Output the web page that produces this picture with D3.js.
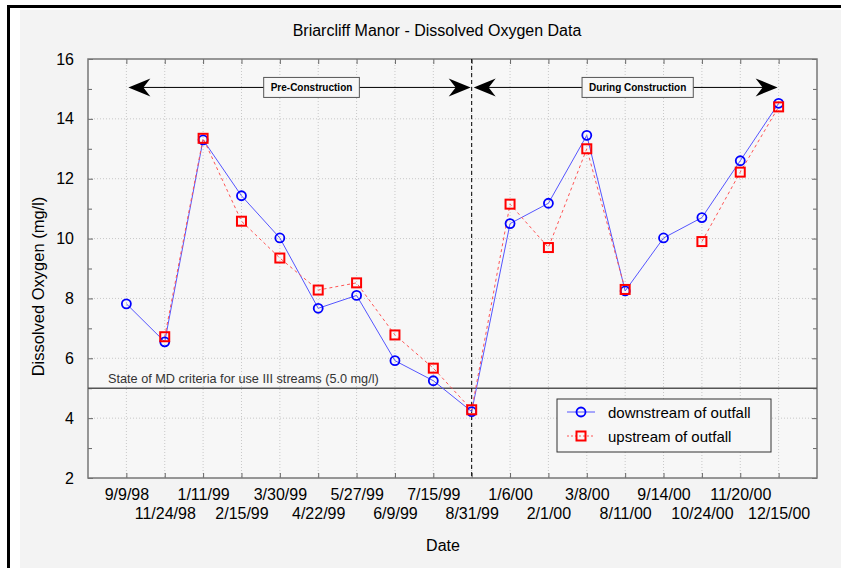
<!DOCTYPE html>
<html>
<head>
<meta charset="utf-8">
<script src="https://cdn.jsdelivr.net/npm/d3@7"></script>
<style>
  body { margin: 0; background: #fff; }
  svg { display: block; font-family: "Liberation Sans", Arial, sans-serif; }
</style>
</head>
<body>
<svg width="841" height="568"></svg>
<script>
// fechas de muestreo
var dates = ["9/9/98", "11/24/98", "1/11/99", "2/15/99", "3/30/99", "4/22/99", "5/27/99",
  "6/9/99", "7/15/99", "8/31/99", "1/6/00", "2/1/00", "3/8/00", "8/11/00", "9/14/00",
  "10/24/00", "11/20/00", "12/15/00"];
var downstream = [7.82, 6.55, 13.3, 11.43, 10.02, 7.67, 8.1, 5.92, 5.25, 4.22, 10.5, 11.18,
  13.45, 8.25, 10.02, 10.7, 12.6, 14.52];
var upstream = [null, 6.72, 13.35, 10.58, 9.35, 8.28, 8.52, 6.78, 5.67, 4.28, 11.15, 9.7,
  13.0, 8.3, null, 9.9, 12.22, 14.4];
var yTicks = [2, 4, 6, 8, 10, 12, 14, 16];
var criteria = 5;
var phases = [
  { label: "Pre-Construction", from: "9/9/98", to: "8/31/99" },
  { label: "During Construction", from: "8/31/99", to: "12/15/00" }
];

var svg = d3.select("svg");
var pL = 88, pR = 817, pT = 59, pB = 478;

var x = d3.scalePoint().domain(dates).range([pL, pR]).padding(1);
var y = d3.scaleLinear().domain([2, 16]).range([pB, pT]);

// marco y fondo
svg.append("rect").attr("x", 20).attr("y", 10).attr("width", 821).attr("height", 558).attr("fill", "#f3f3f3");
svg.append("path").attr("d", "M8.5,568V6.5H841").attr("fill", "none").attr("stroke", "#000").attr("stroke-width", 3);
svg.append("rect").attr("x", pL).attr("y", pT).attr("width", pR - pL).attr("height", pB - pT)
  .attr("fill", "#f7f7f7");

// rejilla
svg.append("g").selectAll("line").data(dates).join("line")
  .attr("x1", d => x(d)).attr("x2", d => x(d)).attr("y1", pT).attr("y2", pB)
  .attr("stroke", "#c8c8c8").attr("stroke-dasharray", "1,2");
svg.append("g").selectAll("line").data(yTicks.slice(1, -1)).join("line")
  .attr("x1", pL).attr("x2", pR).attr("y1", d => y(d)).attr("y2", d => y(d))
  .attr("stroke", "#c8c8c8").attr("stroke-dasharray", "1,2");

// ejes con ticks hacia dentro
var minor = d3.range(3, 16, 2);
svg.append("g").attr("transform", "translate(" + pL + ",0)")
  .call(d3.axisLeft(y).tickValues(yTicks).tickSize(-5).tickPadding(14).tickFormat(d3.format("d")))
  .call(g => g.select(".domain").remove())
  .call(g => g.selectAll("text").attr("font-size", 16).attr("fill", "#000").attr("font-family", "Liberation Sans, Arial"));
svg.append("g").attr("transform", "translate(" + pL + ",0)")
  .call(d3.axisLeft(y).tickValues(minor).tickSize(-4).tickFormat(""))
  .call(g => g.select(".domain").remove());
svg.append("g").attr("transform", "translate(" + pR + ",0)")
  .call(d3.axisRight(y).tickValues(yTicks).tickSize(-5).tickFormat(""))
  .call(g => g.select(".domain").remove());
svg.append("g").attr("transform", "translate(" + pR + ",0)")
  .call(d3.axisRight(y).tickValues(minor).tickSize(-4).tickFormat(""))
  .call(g => g.select(".domain").remove());
svg.append("g").attr("transform", "translate(0," + pT + ")")
  .call(d3.axisTop(x).tickSize(-5).tickFormat(""))
  .call(g => g.select(".domain").remove());
var xa = svg.append("g").attr("transform", "translate(0," + pB + ")")
  .call(d3.axisBottom(x).tickSize(-5).tickPadding(0))
  .call(g => g.select(".domain").remove());
xa.selectAll("text").attr("font-size", 16).attr("fill", "#000").attr("font-family", "Liberation Sans, Arial")
  .attr("dy", (d, i) => i % 2 ? "1.55em" : "0.35em").attr("y", 16);
svg.selectAll(".tick line").attr("stroke", "#666");

svg.append("rect").attr("x", pL).attr("y", pT).attr("width", pR - pL).attr("height", pB - pT)
  .attr("fill", "none").attr("stroke", "#777").attr("stroke-width", 1.5);

// linea de criterio
svg.append("line").attr("x1", pL).attr("x2", pR).attr("y1", y(criteria)).attr("y2", y(criteria))
  .attr("stroke", "#555").attr("stroke-width", 1.5);
svg.append("text").attr("x", 108).attr("y", y(criteria) - 5).attr("font-size", 12.7).attr("fill", "#333")
  .text("State of MD criteria for use III streams (5.0 mg/l)");

// separador de fases
svg.append("line").attr("x1", x("8/31/99")).attr("x2", x("8/31/99")).attr("y1", pT).attr("y2", pB)
  .attr("stroke", "#000").attr("stroke-dasharray", "4,3");

// flechas
var ay = y(15.05);
function head(tx, dir) {
  return "M" + tx + "," + ay + "L" + (tx + dir * 22) + "," + (ay - 9) + "L" + (tx + dir * 15) + "," + ay +
    "L" + (tx + dir * 22) + "," + (ay + 9) + "Z";
}
phases.forEach(function(p) {
  var x1 = x(p.from) + 2, x2 = x(p.to) - 1;
  svg.append("line").attr("x1", x1 + 10).attr("x2", x2 - 10).attr("y1", ay).attr("y2", ay).attr("stroke", "#000");
  svg.append("path").attr("d", head(x1, 1)).attr("fill", "#000");
  svg.append("path").attr("d", head(x2, -1)).attr("fill", "#000");
  var cx = (x1 + x2) / 2 + 12;
  var t = svg.append("text").attr("x", cx).attr("y", ay + 4).attr("text-anchor", "middle")
    .attr("font-size", 10).attr("font-weight", "bold").text(p.label);
  var w = t.node().getComputedTextLength() + 14;
  svg.insert("rect", function() { return t.node(); })
    .attr("x", cx - w / 2).attr("y", ay - 10).attr("width", w).attr("height", 20)
    .attr("fill", "#f7f7f7").attr("stroke", "#555");
});

// series
var blue = "#0000ff", red = "#ff0000";
var lineB = d3.line().x((d, i) => x(dates[i])).y(d => y(d));
var lineR = d3.line().defined(d => d != null).x((d, i) => x(dates[i])).y(d => y(d));

svg.append("path").datum(downstream).attr("d", lineB).attr("fill", "none").attr("stroke", "#5555ff");
svg.append("path").datum(upstream).attr("d", lineR).attr("fill", "none").attr("stroke", "#ff5555")
  .attr("stroke-dasharray", "3,3");

svg.append("g").selectAll("circle").data(downstream).join("circle")
  .attr("cx", (d, i) => x(dates[i])).attr("cy", d => y(d)).attr("r", 4.5)
  .attr("fill", "none").attr("stroke", blue).attr("stroke-width", 1.8);
svg.append("g").selectAll("rect").data(upstream.map((v, i) => [dates[i], v]).filter(d => d[1] != null)).join("rect")
  .attr("x", d => x(d[0]) - 4.5).attr("y", d => y(d[1]) - 4.5).attr("width", 9).attr("height", 9)
  .attr("fill", "none").attr("stroke", red).attr("stroke-width", 2);

// leyenda
var lg = svg.append("g").attr("transform", "translate(557,399)");
lg.append("rect").attr("width", 214).attr("height", 53).attr("fill", "#f7f7f7").attr("stroke", "#333");
lg.append("line").attr("x1", 10).attr("x2", 38).attr("y1", 13).attr("y2", 13).attr("stroke", "#5555ff");
lg.append("circle").attr("cx", 24).attr("cy", 13).attr("r", 4.5).attr("fill", "none").attr("stroke", blue).attr("stroke-width", 1.8);
lg.append("line").attr("x1", 10).attr("x2", 38).attr("y1", 37).attr("y2", 37).attr("stroke", "#ff5555").attr("stroke-dasharray", "2,2");
lg.append("rect").attr("x", 19.5).attr("y", 32.5).attr("width", 9).attr("height", 9).attr("fill", "none").attr("stroke", red).attr("stroke-width", 2);
lg.append("text").attr("x", 51).attr("y", 19).attr("font-size", 15).text("downstream of outfall");
lg.append("text").attr("x", 51).attr("y", 43).attr("font-size", 15).text("upstream of outfall");

// titulos
svg.append("text").attr("x", 437).attr("y", 36).attr("text-anchor", "middle").attr("font-size", 16)
  .text("Briarcliff Manor - Dissolved Oxygen Data");
svg.append("text").attr("x", 443).attr("y", 551).attr("text-anchor", "middle").attr("font-size", 16).text("Date");
svg.append("text").attr("transform", "translate(44," + ((pT + pB) / 2 + 18) + ") rotate(-90)")
  .attr("text-anchor", "middle").attr("font-size", 16.5).text("Dissolved Oxygen (mg/l)");
</script>
</body>
</html>
